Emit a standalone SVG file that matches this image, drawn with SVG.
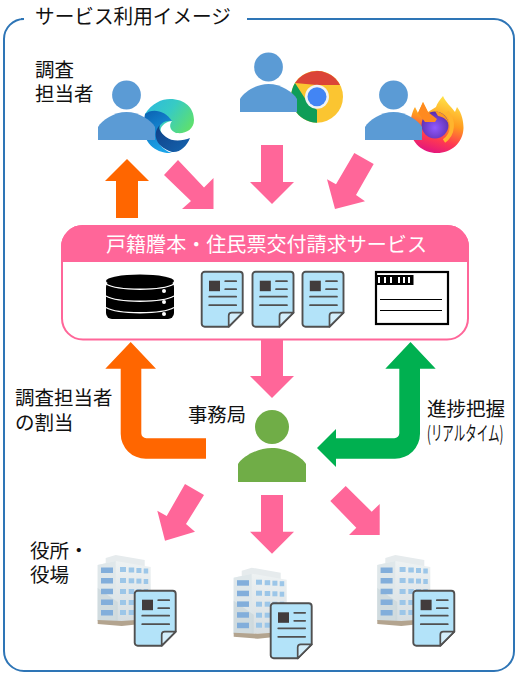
<svg xmlns="http://www.w3.org/2000/svg" width="519" height="678" viewBox="0 0 519 678">
<style>
text{font-family:"Noto Sans CJK JP","Noto Sans",sans-serif;font-size:19.5px;fill:#111}
.p{fill:#FF6699}.o{fill:#FF6600}.g{fill:#00B050}
.l{stroke:#505050;stroke-width:1.7;stroke-linecap:round;fill:none}
.w{fill:#9CC6E8}.w2{fill:#82AEDB}
</style>
<defs>
<linearGradient id="eg" x1="0" y1="0" x2="1" y2="0.6"><stop offset="0" stop-color="#2CB8E0"/><stop offset="0.5" stop-color="#37CBC4"/><stop offset="1" stop-color="#5FE06C"/></linearGradient>
<linearGradient id="eb" x1="0" y1="0" x2="0.4" y2="1"><stop offset="0" stop-color="#0B5FB0"/><stop offset="1" stop-color="#1BA3E8"/></linearGradient>
<linearGradient id="en" x1="0" y1="0" x2="1" y2="1"><stop offset="0" stop-color="#0F3F86"/><stop offset="1" stop-color="#1565B0"/></linearGradient>
<linearGradient id="ff" x1="0.7" y1="0" x2="0.4" y2="1"><stop offset="0" stop-color="#FFE84A"/><stop offset="0.45" stop-color="#FF9A1F"/><stop offset="0.75" stop-color="#FF3A50"/><stop offset="1" stop-color="#E3157F"/></linearGradient>
<radialGradient id="fp" cx="0.5" cy="0.6" r="0.6"><stop offset="0" stop-color="#9059FF"/><stop offset="1" stop-color="#5B2DA8"/></radialGradient>
<linearGradient id="bl" x1="0" y1="0" x2="0" y2="1"><stop offset="0" stop-color="#EEF2F3"/><stop offset="1" stop-color="#D6DEE2"/></linearGradient>
<g id="person">
<circle cx="28.500" cy="-17" r="14.400"/>
<path d="M0 28V15C4 8 16 0 28.500 0S53 8 57 15V28Z"/>
</g>
<g id="doc">
<path d="M3 0H38A3 3 0 0 1 41 3V41L27 55H3A3 3 0 0 1 0 52V3A3 3 0 0 1 3 0Z" fill="#B3E3F9" stroke="#505050" stroke-width="1.900"/>
<path d="M27 55V44A3 3 0 0 1 30 41H41Z" fill="#D3EEFB" stroke="#505050" stroke-width="1.700" stroke-linejoin="round"/>
<rect x="7.300" y="9" width="11" height="10.500" fill="#423C3C"/>
<path class="l" d="M23.500 9.500H34.500M23.500 17.500H34.500M7.500 25H34.500M7.500 33.500H34.500"/>
</g>
<g id="bldg">
<path d="M8 3 18 0 47 5V14L8 12Z" fill="#E6EBED"/>
<path d="M0 10 18 6 53 12V66H0Z" fill="url(#bl)"/>
<path d="M0 10 18 6V66H0Z" fill="#DFE7EA"/>
<path d="M0 33 20 47V66H0Z" fill="#C9D5DA" opacity="0.7"/>
<path d="M0 65 24 66 53 64V68L24 71 0 69Z" fill="#B3A48F"/>
<g class="w2"><rect x="3.300" y="12.500" width="12" height="5.500"/><rect x="3.300" y="23" width="12" height="5.500"/><rect x="3.300" y="33.700" width="12" height="5.500"/><rect x="3.300" y="44.500" width="12" height="5.500"/><rect x="3.300" y="55" width="12" height="5.500"/></g>
<g class="w"><rect x="22.300" y="12" width="6" height="5"/><rect x="31" y="12.500" width="5.500" height="5"/><rect x="38.700" y="13" width="5" height="5"/><rect x="46" y="13.500" width="4.500" height="5"/>
<rect x="22.300" y="23" width="6" height="5"/><rect x="31" y="23.300" width="5.500" height="5"/><rect x="38.700" y="23.600" width="5" height="5"/><rect x="46" y="24" width="4.500" height="5"/>
<rect x="22.300" y="34" width="6" height="5"/><rect x="31" y="34" width="5.500" height="5"/><rect x="38.700" y="34" width="5" height="5"/><rect x="46" y="34" width="4.500" height="5"/>
<rect x="22.300" y="45" width="6" height="5"/><rect x="31" y="45" width="5.500" height="5"/><rect x="38.700" y="45" width="5" height="5"/>
<rect x="22.300" y="55" width="6" height="5"/><rect x="31" y="55" width="5.500" height="5"/><rect x="38.700" y="55" width="5" height="5"/></g>
</g>
</defs>

<g id="frame">
<path d="M21 19H24A20 20 0 0 0 4 39V651A20 20 0 0 0 24 671H494A20 20 0 0 0 514 651V39A20 20 0 0 0 494 19H247" fill="none" stroke="#2E75B6" stroke-width="2"/>
<text id="frame-title" x="35" y="24" style="font-size:20px" textLength="196" lengthAdjust="spacingAndGlyphs">サービス利用イメージ</text>
</g>

<g id="connectors">
<path class="o" d="M127 159 149 181H138V218H116V181H105Z"/>
<polygon class="p" points="178,160 204,187.500 213.500,178 213.500,209 182,209 191,201 164,175"/>
<path class="p" d="M261 145H283V182H294L272 204 250 182H261Z"/>
<polygon class="p" points="354.300,153 373.700,164 356,195 365,201.300 335,209 327,179.300 336,184.300"/>
<path class="p" d="M261 340H283V376H294L272 398 250 376H261Z"/>
<path class="o" d="M130.700 342 156 368.700H141.300V433.300A5 5 0 0 0 146.300 438.300H206V458.700H145.700A25 25 0 0 1 120.700 433.700V368.700H105.300Z"/>
<path class="g" d="M317 448 336 429V438.300H394.300A5 5 0 0 0 399.300 433.300V368.700H385.300L410.500 342 435.700 368.700H420V433.700A25 25 0 0 1 395 458.700H336V467Z"/>
<polygon class="p" points="185,484 204,495 186,524 195,531.700 165,540.700 157.300,510.700 166.700,516"/>
<path class="p" d="M261 495H283V531.700H294L272 553.700 250 531.700H261Z"/>
<polygon class="p" points="345.700,486 371.700,511.700 379.700,504 379.700,535 349,535 356.300,527.700 330.300,501"/>
</g>

<g id="edge-user">
<path d="M145 114C152 103 162 99 170 99C185 99 194 108 194 120C194 130 185 134 177 133L160 140 145 125Z" fill="url(#eg)"/>
<path d="M145 114C152 108 165 110 172 121C164 120 158 125 158 132C156 142 162 150 172 153C155 154 143 142 143 125Z" fill="url(#eb)"/>
<path d="M172 121C164 122 159 128 161 132C163 138 172 142 190 138C186 136 180 135 176 133C171 131 168 126 172 121Z" fill="#fff"/>
<path d="M160 125C153 131 153 146 172 152C180 153 187 146 190 138C183 141 172 142 166 137C161 133 158 129 160 125Z" fill="url(#en)"/>
<use href="#person" x="98" y="112" fill="#5B9BD5"/>
</g>
<g id="chrome-user">
<circle cx="317" cy="96.700" r="26" fill="#FBC531"/>
<path d="M295 83A26 26 0 0 1 340 85L317 85Z" fill="#DB4437"/>
<path d="M295 83A26 26 0 0 0 317 122.700L317 110 306 100Z" fill="#0F9D58"/>
<circle cx="317" cy="96.700" r="12" fill="#F1F3F4"/>
<circle cx="317" cy="96.700" r="9.500" fill="#4285F4"/>
<use href="#person" x="240" y="84" fill="#5B9BD5"/>
</g>
<g id="firefox-user">
<path d="M443 96C446 103 451 106 455 112L457 107C462 113 463.500 122 463.500 128C463 143 451 153 437 153C423 153 411 143 410 128C410 120 412 112 415 107L418 113 423 102 428 112 436 107C437 103 440 100 443 96Z" fill="url(#ff)"/>
<path d="M447 112C454 120 454 134 444 141" fill="none" stroke="#FFB52E" stroke-width="4"/>
<circle cx="435" cy="125" r="13.500" fill="url(#fp)"/>
<path d="M418 113 423 102 428 112 437 119 435 122 425 122Z" fill="#FF8A1F"/>
<path d="M435 111C443 112 449 119 449 126C448 120 444 117 438 116Z" fill="#FF9A1F"/>
<use href="#person" x="365" y="112" fill="#5B9BD5"/>
</g>
<g id="investigators-label">
<text x="35" y="77">調査<tspan x="35" dy="24">担当者</tspan></text>
</g>

<g id="service">
<rect x="62" y="226" width="406" height="113.500" rx="21" fill="#fff" stroke="#FF6699" stroke-width="2"/>
<path d="M62 261V247A21 21 0 0 1 83 226H447A21 21 0 0 1 468 247V261Z" fill="#FF6699" stroke="#FF6699" stroke-width="2"/>
<text x="106" y="252" textLength="321" lengthAdjust="spacingAndGlyphs" style="font-size:20px;fill:#fff">戸籍謄本・住民票交付請求サービス</text>
<g id="database">
<rect x="106" y="281" width="68" height="38" rx="6" fill="#000"/>
<ellipse cx="140" cy="281" rx="34" ry="6.500" fill="#000"/>
<path d="M106 284C118 291 162 291 174 284M106 296C118 303 162 303 174 296M106 307.500C118 314.500 162 314.500 174 307.500" fill="none" stroke="#fff" stroke-width="1.300"/>
<circle cx="164" cy="291" r="2" fill="#fff"/><circle cx="164" cy="302" r="2" fill="#fff"/><circle cx="164" cy="314" r="2" fill="#fff"/>
</g>
<use href="#doc" x="201.700" y="271.700"/>
<use href="#doc" x="252.500" y="271.700"/>
<use href="#doc" x="302.500" y="271.700"/>
<g id="card">
<rect x="376" y="272" width="72" height="52" fill="#fff" stroke="#000" stroke-width="2.200"/>
<rect x="377" y="275" width="36.500" height="10" fill="#000"/>
<path d="M379 277V283M385 277V283M391 277V283M399 277V283M404 277V283M409 277V283" stroke="#fff" stroke-width="2"/>
<path d="M380 299.500H442M380 310.500H442" stroke="#000" stroke-width="1.200"/>
</g>
</g>

<g id="assign-label">
<text x="15" y="405">調査担当者<tspan x="15" dy="25">の割当</tspan></text>
</g>
<g id="progress-label">
<text x="427" y="416">進捗把握</text>
<text transform="translate(427 441) scale(0.575 1)" x="0" y="0" style="font-size:20px">(リアルタイム)</text>
</g>
<g id="office">
<text x="188" y="422" textLength="58" lengthAdjust="spacingAndGlyphs">事務局</text>
<circle cx="272" cy="427" r="17" fill="#70AD47"/>
<path d="M238 482V464C243 456 258 448 272 448S301 456 306 464V482Z" fill="#70AD47"/>
</g>

<g id="municipality-label">
<text x="30" y="558">役所・<tspan x="30" dy="23.500">役場</tspan></text>
</g>
<g id="municipality-1"><use href="#bldg" x="97.700" y="555"/><use href="#doc" x="134.700" y="590.700"/></g>
<g id="municipality-2"><use href="#bldg" x="233.700" y="567.700"/><use href="#doc" x="270.700" y="603.300"/></g>
<g id="municipality-3"><use href="#bldg" x="377.300" y="555"/><use href="#doc" x="413.300" y="590.700"/></g>
</svg>
